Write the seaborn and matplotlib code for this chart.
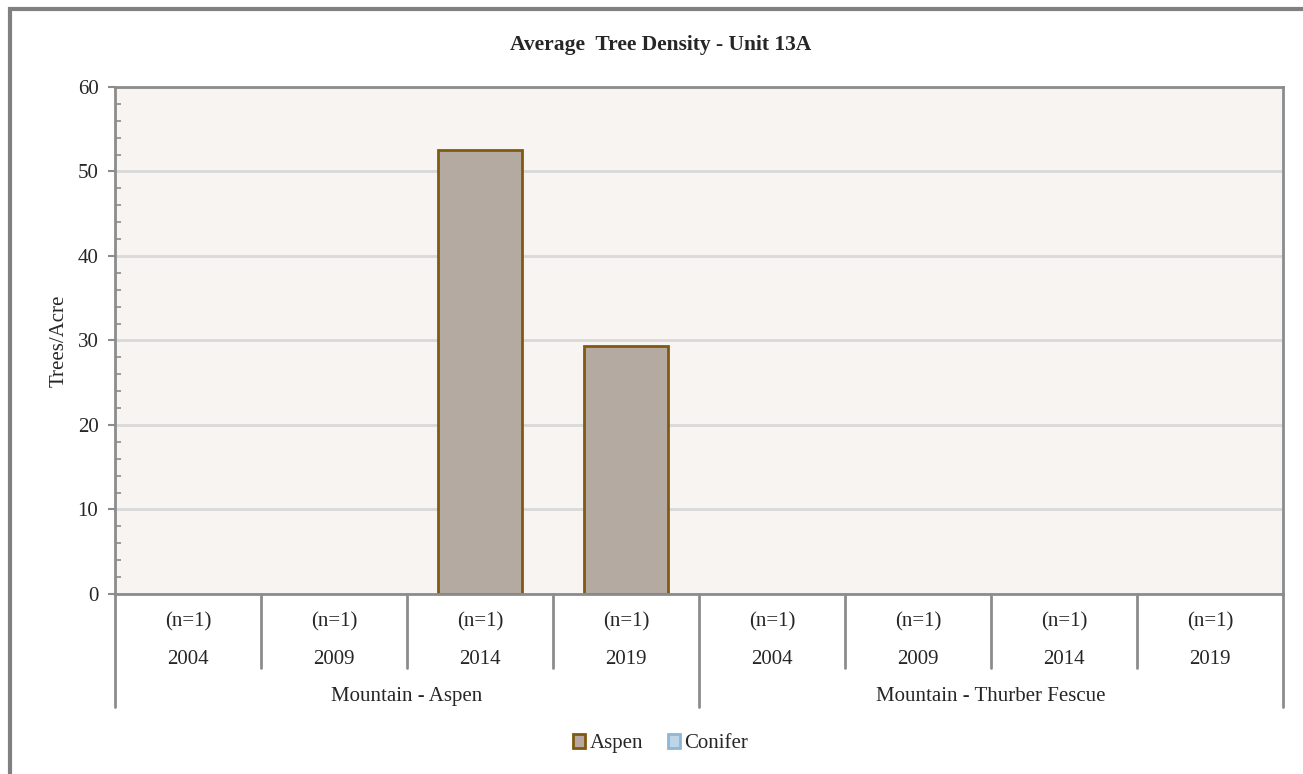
import pandas as pd
import numpy as np
import seaborn as sns
import matplotlib.pyplot as plt
from matplotlib.patches import Patch, Rectangle
from matplotlib.ticker import MultipleLocator

# Datos
groups = ["Mountain - Aspen", "Mountain - Thurber Fescue"]
years = ["2004", "2009", "2014", "2019"]
n_labels = ["(n=1)"] * 8
aspen = [np.nan, np.nan, 52.6, 29.4, np.nan, np.nan, np.nan, np.nan]
conifer = [np.nan] * 8
species = ["Aspen", "Conifer"]

cats = [f"{g}|{y}" for g in groups for y in years]
df = pd.DataFrame({
    "cat": cats * 2,
    "species": ["Aspen"] * 8 + ["Conifer"] * 8,
    "value": aspen + conifer,
})

sns.set_style("white")
plt.rcParams["font.family"] = ["Liberation Serif", "DejaVu Serif"]

fill = {"Aspen": "#b7a99f", "Conifer": "#bcd6e8"}
edge = {"Aspen": "#7f5a10", "Conifer": "#8fb6d4"}

fig = plt.figure(figsize=(13.03, 7.74), dpi=100)
ax = fig.add_axes([0.0883, 0.2326, 0.8963, 0.655])
ax.set_facecolor("#f7f4f1")

sns.barplot(data=df.dropna(), x="cat", y="value", hue="species", order=cats,
            hue_order=species, palette=fill, dodge=False, width=0.58,
            edgecolor=edge["Aspen"], linewidth=2, legend=False, ax=ax)

ax.set_xlim(-0.5, len(cats) - 0.5)
ax.set_ylim(0, 60)
ax.yaxis.set_major_locator(MultipleLocator(10))
ax.yaxis.set_minor_locator(MultipleLocator(2))
ax.grid(axis="y", color="#d9d9d9", linewidth=2)
ax.set_axisbelow(True)
for s in ax.spines.values():
    s.set_color("#8c8c8c")
    s.set_linewidth(2)
ax.tick_params(axis="y", which="major", direction="out", length=5, width=1.5,
               color="#8c8c8c", labelsize=15, left=True, pad=7)
ax.tick_params(axis="y", which="minor", direction="in", length=4, width=1.2,
               color="#8c8c8c", left=True)
ax.set_xticks([])
ax.set_xlabel("")
ax.set_ylabel("")

# Etiquetas de eje x en varios niveles
tr = ax.get_xaxis_transform()
for i, c in enumerate(cats):
    ax.text(i, -0.056, n_labels[i], transform=tr, ha="center", va="center", fontsize=15)
    ax.text(i, -0.129, c.split("|")[1], transform=tr, ha="center", va="center", fontsize=15)
for i in range(len(cats) + 1):
    low = -0.223 if i % 4 == 0 else -0.146
    ax.plot([i - 0.5, i - 0.5], [0, low], transform=tr, color="#8c8c8c",
            linewidth=2, clip_on=False)
for j, g in enumerate(groups):
    ax.text(j * 4 + 1.5, -0.202, g, transform=tr, ha="center", va="center", fontsize=15)

fig.text(0.0455, 0.56, "Trees/Acre", rotation=90, ha="center", va="center", fontsize=15)
fig.text(0.507, 0.942, "Average  Tree Density - Unit 13A", ha="center", va="center",
         fontsize=15.5, fontweight="bold")

handles = [Patch(facecolor=fill[s], edgecolor=edge[s], linewidth=2) for s in species]
fig.legend(handles, species, loc="center", bbox_to_anchor=(0.507, 0.039), ncol=2,
           frameon=False, fontsize=15, handlelength=0.6, handleheight=0.6,
           handletextpad=0.2, columnspacing=1.2)

fig.patches.append(Rectangle((0.008, -0.1), 1.1, 1.088, transform=fig.transFigure,
                             fill=False, edgecolor="#808080", linewidth=3))

fig.savefig("out.png", dpi=100)
